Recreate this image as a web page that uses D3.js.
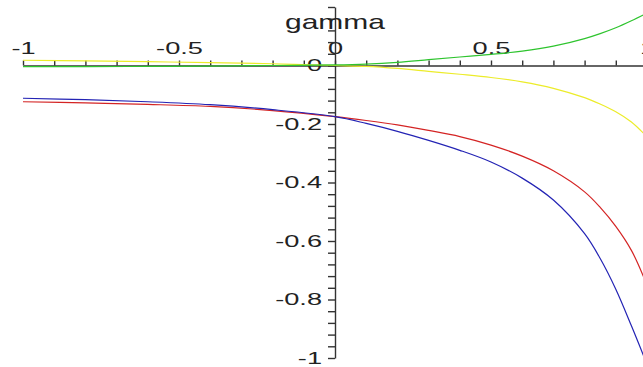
<!DOCTYPE html>
<html>
<head>
<meta charset="utf-8">
<script src="https://cdn.jsdelivr.net/npm/d3@7"></script>
<style>
  body { margin: 0; background: #fff; }
  text { font-family: "Liberation Sans", Arial, sans-serif; fill: #222; }
</style>
</head>
<body>
<svg width="643" height="367"></svg>
<script>
var gamma = [-1, -0.8, -0.6, -0.4, -0.2, 0, 0.1, 0.2, 0.3, 0.4, 0.5, 0.6, 0.7, 0.8, 0.85, 0.9, 0.95, 0.99];
var yellowVals = [0.018, 0.016, 0.013, 0.010, 0.006, 0.0, -0.003, -0.01, -0.02, -0.03, -0.041, -0.056, -0.078, -0.11, -0.132, -0.158, -0.193, -0.233];
var greenVals = [-0.004, -0.004, -0.003, -0.002, 0.0, 0.002, 0.005, 0.011, 0.02, 0.029, 0.038, 0.049, 0.066, 0.092, 0.109, 0.129, 0.153, 0.174];
var redVals = [-0.124, -0.128, -0.133, -0.140, -0.154, -0.175, -0.188, -0.203, -0.222, -0.243, -0.272, -0.31, -0.36, -0.432, -0.485, -0.55, -0.632, -0.725];
var blueVals = [-0.112, -0.117, -0.124, -0.134, -0.151, -0.175, -0.198, -0.225, -0.256, -0.29, -0.33, -0.385, -0.46, -0.575, -0.66, -0.765, -0.89, -0.995];
var xTickLabels = [-1, -0.5, 0, 0.5, 1];
var yTickLabels = [-1, -0.8, -0.6, -0.4, -0.2, 0];

var series = [
  {name: "yellow", values: yellowVals, color: "#ecec2a"},
  {name: "green", values: greenVals, color: "#2ec42e"},
  {name: "red", values: redVals, color: "#d42424"},
  {name: "blue", values: blueVals, color: "#2323b4"}
];

var svg = d3.select("svg");
var x = d3.scaleLinear().domain([-1, 1]).range([23, 647]),
    y = d3.scaleLinear().domain([-1, 0.2]).range([358, 7]);

var sx = 1.7;

var line = d3.line()
  .x(function(d) { return x(d[0]); })
  .y(function(d) { return y(d[1]); })
  .curve(d3.curveCatmullRom.alpha(0.5));

// x axis along y = 0, labels above
var xTicks = d3.range(-10, 11).map(function(i) { return i / 10; });
var gx = svg.append("g")
    .attr("transform", "translate(0," + y(0) + ")")
    .call(d3.axisTop(x)
      .tickValues(xTicks)
      .tickSize(5)
      .tickSizeOuter(0)
      .tickPadding(7)
      .tickFormat(function(d) {
        var hit = xTickLabels.filter(function(v) { return Math.abs(v - d) < 1e-9; });
        return hit.length ? String(hit[0]) : "";
      }));

// y axis along x = 0, labels on the left
var yTicks = d3.range(-25, 6).map(function(i) { return i * 0.04; });
var gy = svg.append("g")
    .attr("transform", "translate(" + x(0) + ",0)")
    .call(d3.axisLeft(y)
      .tickValues(yTicks)
      .tickSize(7)
      .tickSizeOuter(0)
      .tickFormat(function(d) {
        var hit = yTickLabels.filter(function(v) { return Math.abs(v - d) < 1e-9; });
        return hit.length ? String(hit[0]) : "";
      }));

[gx, gy].forEach(function(g) {
  g.select(".domain").attr("stroke", "#333").attr("stroke-width", 1.4);
  g.selectAll(".tick line").attr("stroke", "#333").attr("stroke-width", 1.4);
  g.selectAll(".tick text")
    .attr("fill", "#222")
    .style("font-family", "'Liberation Sans', Arial, sans-serif")
    .style("font-size", "16px");
});
gx.selectAll(".tick text").attr("transform", "scale(" + sx + ",1)");
gy.selectAll(".tick text")
  .attr("x", -13 / sx)
  .attr("transform", "scale(" + sx + ",1)");

series.forEach(function(s) {
  svg.append("path")
    .datum(gamma.map(function(g, i) { return [g, s.values[i]]; }))
    .attr("fill", "none")
    .attr("stroke", s.color)
    .attr("stroke-width", 1.2)
    .attr("d", line);
});

svg.append("text")
    .attr("transform", "translate(" + x(0) + ",29) scale(1.5,1)")
    .attr("text-anchor", "middle")
    .style("font-size", "20px")
    .text("gamma");
</script>
</body>
</html>
